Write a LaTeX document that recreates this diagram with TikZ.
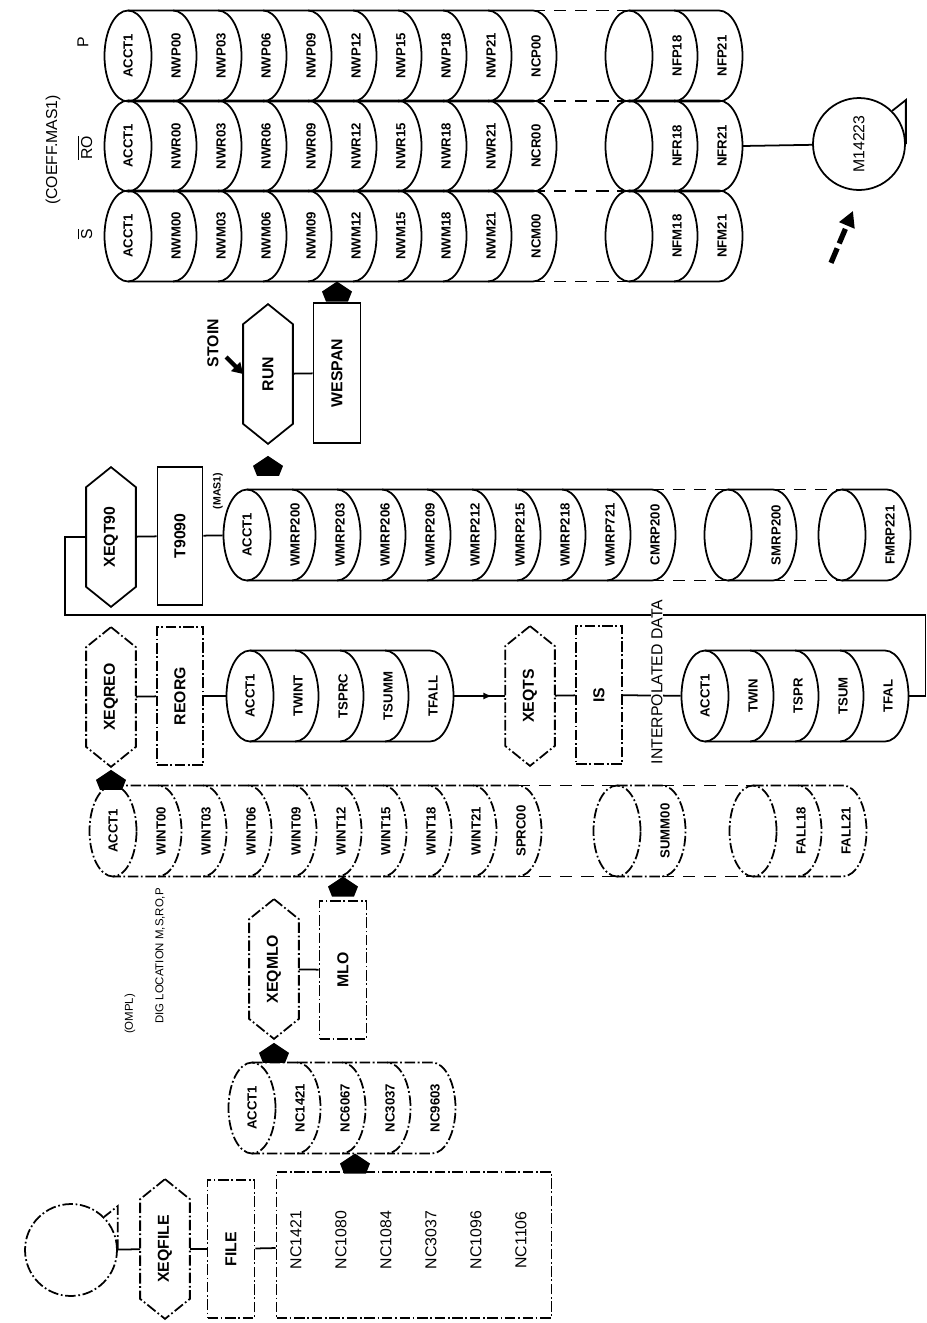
\documentclass[tikz,border=0pt]{standalone}
\usepackage{graphicx}
\usepackage{fontspec}
\setmainfont{Liberation Sans}
\usetikzlibrary{calc}
\usetikzlibrary{arrows.meta}
\usetikzlibrary{shapes.geometric}
\usetikzlibrary{decorations.markings}
\tikzstyle{cell}=[rotate=90,inner sep=0pt,font=\fontsize{7.5}{8}\selectfont\bfseries]
\tikzstyle{ends}=[draw,ellipse,minimum width=0.94cm,minimum height=1.82cm,inner sep=0pt]
\tikzstyle{job}=[minimum width=0.96cm,minimum height=2.76cm,inner sep=0pt,font=\fontsize{9}{10}\selectfont\bfseries]
\tikzstyle{filebox}=[draw,minimum width=0.92cm,minimum height=2.76cm,inner sep=0pt,font=\fontsize{9}{10}\selectfont\bfseries]
\tikzstyle{lab}=[rotate=90,inner sep=1pt,font=\fontsize{9}{10}\selectfont]
\tikzstyle{faint}=[dash pattern=on 6pt off 1.5pt on 1pt off 1.5pt]
\tikzstyle{gapline}=[dash pattern=on 7pt off 5pt]
\tikzstyle{midarrow}=[postaction={decorate},decoration={markings,mark=at position 0.75 with {\arrow{Latex[length=5pt,width=4pt]}}}]
\def\hh{45.5}   % half height of a stack, in px
\def\rx{0.47cm} % ellipse radii of a stack
\def\ry{0.91cm}
% Syntax: [draw options] {name} {first centre x} {centre y} {labels, first one in the end ellipse}
\newcommand{\stackgroup}[5][]{
  \foreach \lab [count=\k from 0] in {#5} {
    \pgfmathsetmacro{\cx}{#3+45*\k}
    \ifnum\k=0
      \node[ends,#1] (#2-0) at (\cx,#4) {};
      \node[cell] at (\cx,#4) {\lab};
    \else
      \draw[#1] (\cx-45,#4-\hh) -- (\cx,#4-\hh) arc[start angle=90,end angle=-90,x radius=\rx,y radius=\ry] -- (\cx-45,#4+\hh);
      \node[cell] (#2-\k) at (\cx+3,#4) {\lab};
    \fi
    \coordinate (#2-\k-t) at (\cx,#4-\hh);
    \coordinate (#2-\k-b) at (\cx,#4+\hh);
    \coordinate (#2-\k-e) at (\cx+23.5,#4);
  }
}
% Syntax: [draw options] {name} {centre} {text}
\newcommand{\hexa}[4][]{
  \node[job] (#2) at #3 {\rotatebox{90}{#4}};
  \draw[#1] (#2.north) -- ($(#2.north east)+(0,20)$) -- ($(#2.south east)+(0,-20)$) -- (#2.south)
    -- ($(#2.south west)+(0,-20)$) -- ($(#2.north west)+(0,20)$) -- cycle;
}
% filled flow head, tip at #1, pointing up
\newcommand{\flowhead}[1]{\fill #1 -- ++(15,10) -- ++(-4,10) -- ++(-22,0) -- ++(-4,-10) -- cycle;}
% tape reel, name #1, centre #2, text #3
\newcommand{\tape}[4][]{
  \node[draw,#1,circle,minimum size=1.84cm,inner sep=0pt] (#2) at #3 {\rotatebox{90}{\fontsize{9}{10}\selectfont #4}};
  \draw[#1] (#2.east) -- ++(0,-44) -- (#2.45);
}

\begin{document}
\begin{tikzpicture}[x=0.02cm,y=-0.02cm,line width=1pt]
\useasboundingbox (0,0) rectangle (927,1323);

% coefficient master files
\stackgroup{p}{128}{56}{ACCT1,NWP00,NWP03,NWP06,NWP09,NWP12,NWP15,NWP18,NWP21,NCP00}
\stackgroup{pf}{629}{56}{{},NFP18,NFP21}
\stackgroup{ro}{128}{146}{ACCT1,NWR00,NWR03,NWR06,NWR09,NWR12,NWR15,NWR18,NWR21,NCR00}
\stackgroup{rof}{629}{146}{{},NFR18,NFR21}
\stackgroup{s}{128}{236}{ACCT1,NWM00,NWM03,NWM06,NWM09,NWM12,NWM15,NWM18,NWM21,NCM00}
\stackgroup{sf}{629}{236}{{},NFM18,NFM21}
\foreach \n in {p,ro,s} {
  \draw[gapline] (\n-9-t) -- (\n f-0-t);
  \draw[gapline] (\n-9-b) -- (\n f-0-b);
}
\node[lab] (plab) at (83,42) {P};
\node[lab] (rolab) at (85,148) {$\overline{\mbox{RO}}$};
\node[lab] (slab) at (85,234) {$\overline{\mbox{S}}$};
\node[lab] (coeff) at (53,150) {(COEFF.MAS1)};

\tape{tape}{(859,144)}{M14223}
\draw (rof-2-e) -- (tape);
\draw[line width=3pt,dash pattern=on 9pt off 3pt,-{Triangle[length=9pt,width=9pt]}] ($(tape.south)+(-28,72)$) -- ($(tape.south)+(-6,20)$);

% run
\hexa{run}{(268,374)}{RUN}
\node[filebox,minimum height=2.8cm,minimum width=0.94cm] (wespan) at (337,373) {\rotatebox{90}{WESPAN}};
\draw (run) -- (wespan);
\flowhead{(wespan.north |- s-5-b)}
\node[lab,font=\fontsize{9}{10}\selectfont\bfseries] (stoin) at (213,343) {STOIN};
\draw[line width=2.5pt,-{Triangle[length=6pt,width=7pt]}] ($(run.west)+(-17,-17)$) -- (run.west);

% interpolated master
\hexa{xeqt90}{(111,537)}{XEQT90}
\node[filebox,minimum width=0.9cm] (t9090) at (180,536) {\rotatebox{90}{T9090}};
\node[lab,font=\fontsize{6}{7}\selectfont\bfseries] (maslab) at (218,491) {(MAS1)};
\stackgroup{mas}{247}{535}{ACCT1,WMRP200,WMRP203,WMRP206,WMRP209,WMRP212,WMRP215,WMRP218,WMRP721,CMRP200}
\stackgroup{masb}{728}{535}{{},SMRP200}
\stackgroup{masc}{842}{535}{{},FMRP221}
\draw[gapline] (mas-9-t) -- (masb-0-t);
\draw[gapline] (mas-9-b) -- (masb-0-b);
\draw[gapline] (masb-1-t) -- (masc-0-t);
\draw[gapline] (masb-1-b) -- (masc-0-b);
\draw (xeqt90) -- (t9090);
\draw (t9090) -- (mas-0);
\flowhead{($(run.south)+(0,12)$)}

% reorganisation
\hexa[faint]{xeqreo}{(111,697)}{XEQREO}
\node[filebox,faint] (reorg) at (180,696) {\rotatebox{90}{REORG}};
\stackgroup{t}{250}{696}{ACCT1,TWINT,TSPRC,TSUMM,TFALL}
\draw (xeqreo) -- (reorg);
\draw (reorg) -- (t-0);
\hexa[faint]{xeqts}{(530,696)}{XEQTS}
\node[filebox,faint] (isbox) at (599,695) {\rotatebox{90}{IS}};
\stackgroup{i}{705}{696}{ACCT1,TWIN,TSPR,TSUM,TFAL}
\draw[midarrow] (t-4-e) -- (xeqts);
\draw (xeqts) -- (isbox);
\draw (isbox) -- (i-0);
\coordinate (back) at (65,615);
\draw (i-4-e) -- ++(17,0) |- (back) |- (xeqt90.west);
\node[lab,fill=white,inner sep=0pt] (interp) at (657,682) {INTERPOLATED DATA};

% wind etc. files
\stackgroup[faint]{w}{113}{831}{ACCT1,WINT00,WINT03,WINT06,WINT09,WINT12,WINT15,WINT18,WINT21,SPRC00}
\stackgroup[faint]{wb}{617}{831}{{},SUMM00}
\stackgroup[faint]{wc}{753}{831}{{},FALL18,FALL21}
\draw[gapline] (w-9-t) -- (wb-0-t);
\draw[gapline] (w-9-b) -- (wb-0-b);
\draw[gapline] (wb-1-t) -- (wc-0-t);
\draw[gapline] (wb-1-b) -- (wc-0-b);
\flowhead{($(xeqreo.south)+(0,3)$)}

\hexa[faint]{xeqmlo}{(274,969)}{XEQMLO}
\node[filebox,faint,minimum width=0.94cm] (mlo) at (343,970) {\rotatebox{90}{MLO}};
\draw (xeqmlo) -- (mlo);
\flowhead{(mlo.north |- w-5-b)}

\stackgroup[faint]{nc}{252}{1108}{ACCT1,NC1421,NC6067,NC3037,NC9603}
\flowhead{($(xeqmlo.south)+(0,4)$)}

% station list
\tape[faint]{tapel}{(71,1250)}{}
\hexa[faint]{xeqfile}{(165,1249)}{XEQFILE}
\node[filebox,faint,minimum width=0.94cm] (filebox) at (231,1249) {\rotatebox{90}{FILE}};
\node[draw,faint,minimum width=5.5cm,minimum height=2.92cm] (listbox) at (414,1245) {};
\foreach \lab [count=\k from 0] in {NC1421,NC1080,NC1084,NC3037,NC1096,NC1106}
  \node[lab] (list-\k) at (296+45*\k,1240) {\lab};
\draw (tapel) -- (xeqfile);
\draw (xeqfile) -- (filebox);
\draw (filebox) -- (listbox);
\flowhead{($(nc-2-b)+(13,0)$)}

% titles
\node[lab,font=\fontsize{6.5}{7}\selectfont] (title) at (160,956) {DIG LOCATION M,S,RO,P};
\node[lab,font=\fontsize{6.5}{7}\selectfont] (comp) at (130,1014) {(OMPL)};
\end{tikzpicture}
\end{document}
